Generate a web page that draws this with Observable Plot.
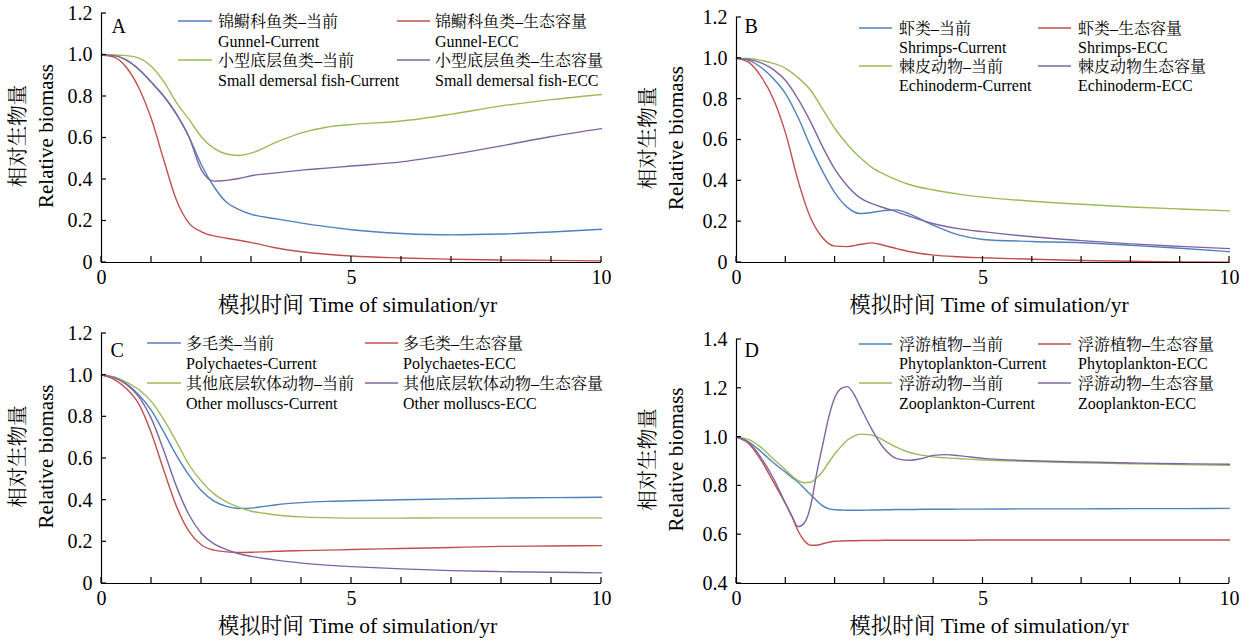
<!DOCTYPE html>
<html>
<head>
<meta charset="utf-8">
<script src="https://cdn.jsdelivr.net/npm/d3@7"></script>
<script src="https://cdn.jsdelivr.net/npm/@observablehq/plot@0.6"></script>
<style>
  html, body { margin: 0; padding: 0; background: #fff; }
  body { width: 1249px; height: 643px; position: relative; overflow: hidden; }
  .panel { position: absolute; }
</style>
</head>
<body>
<div id="pA" class="panel" style="left:0px;top:0px"></div>
<div id="pB" class="panel" style="left:630px;top:0px"></div>
<div id="pC" class="panel" style="left:0px;top:320px"></div>
<div id="pD" class="panel" style="left:630px;top:320px"></div>
<script>
// ---------- data ----------
const seriesColors = ["#4F81BD", "#C0504D", "#9BBB59", "#8064A2"];
const yLabelZh = "相对生物量";
const yLabelEn = "Relative biomass";
const xLabel = "模拟时间 Time of simulation/yr";
const xTickLabels = [0, 5, 10];
const xMinorTicks = [0, 1, 2, 3, 4, 5, 6, 7, 8, 9, 10];
const yTicksABC = [0, 0.2, 0.4, 0.6, 0.8, 1.0, 1.2];
const yTicksD = [0.4, 0.6, 0.8, 1.0, 1.2, 1.4];

// Panel A
const timeA = [0,0.25,0.5,0.75,1,1.25,1.5,1.75,2,2.25,2.5,2.75,3,3.5,4,4.5,5,6,7,8,9,10];
const gunnelCurrent = [1.0,0.997,0.975,0.93,0.868,0.80,0.715,0.605,0.47,0.365,0.29,0.255,0.232,0.21,0.19,0.173,0.158,0.14,0.133,0.137,0.147,0.16];
const gunnelECC = [1.0,0.99,0.94,0.84,0.69,0.49,0.30,0.19,0.148,0.128,0.117,0.107,0.096,0.07,0.052,0.04,0.031,0.022,0.016,0.012,0.01,0.008];
const smallFishCurrent = [1.0,1.0,0.997,0.985,0.945,0.87,0.77,0.69,0.605,0.55,0.523,0.516,0.528,0.58,0.625,0.652,0.665,0.682,0.715,0.755,0.785,0.81];
const smallFishECC = [1.0,0.997,0.975,0.93,0.868,0.80,0.715,0.605,0.445,0.392,0.396,0.405,0.418,0.432,0.445,0.455,0.465,0.485,0.52,0.562,0.607,0.645];
const legendA_zh = ["锦鳚科鱼类–当前", "锦鳚科鱼类–生态容量", "小型底层鱼类–当前", "小型底层鱼类–生态容量"];
const legendA_en = ["Gunnel-Current", "Gunnel-ECC", "Small demersal fish-Current", "Small demersal fish-ECC"];

// Panel B
const timeB = [0,0.25,0.5,0.75,1,1.25,1.5,1.75,2,2.25,2.5,2.75,3,3.25,3.5,4,4.5,5,6,7,8,9,10];
const shrimpsCurrent = [1.0,0.99,0.955,0.9,0.825,0.71,0.57,0.445,0.34,0.27,0.24,0.245,0.255,0.258,0.238,0.182,0.135,0.113,0.103,0.097,0.084,0.07,0.053];
const shrimpsECC = [1.0,0.98,0.91,0.80,0.63,0.40,0.22,0.12,0.08,0.078,0.088,0.096,0.083,0.068,0.054,0.036,0.028,0.023,0.016,0.01,0.006,0.003,0.001];
const echinoCurrent = [1.0,0.999,0.99,0.975,0.95,0.905,0.845,0.75,0.655,0.578,0.515,0.465,0.432,0.405,0.382,0.355,0.335,0.32,0.30,0.285,0.272,0.262,0.253];
const echinoECC = [1.0,0.995,0.978,0.945,0.89,0.80,0.69,0.565,0.455,0.375,0.318,0.288,0.267,0.248,0.227,0.19,0.166,0.151,0.126,0.107,0.091,0.079,0.068];
const legendB_zh = ["虾类–当前", "虾类–生态容量", "棘皮动物–当前", "棘皮动物生态容量"];
const legendB_en = ["Shrimps-Current", "Shrimps-ECC", "Echinoderm-Current", "Echinoderm-ECC"];

// Panel C
const timeC = [0,0.25,0.5,0.75,1,1.25,1.5,1.75,2,2.25,2.5,2.75,3,3.25,3.5,4,4.5,5,6,7,8,9,10];
const polyCurrent = [1.0,0.99,0.958,0.905,0.83,0.725,0.615,0.52,0.445,0.395,0.37,0.36,0.362,0.37,0.378,0.388,0.394,0.397,0.402,0.406,0.41,0.412,0.414];
const polyECC = [1.0,0.98,0.935,0.86,0.72,0.54,0.37,0.25,0.185,0.16,0.152,0.149,0.15,0.152,0.155,0.158,0.16,0.163,0.168,0.173,0.178,0.18,0.182];
const molluscCurrent = [1.0,0.992,0.967,0.93,0.873,0.785,0.68,0.57,0.49,0.43,0.392,0.365,0.347,0.337,0.329,0.32,0.316,0.314,0.314,0.315,0.315,0.315,0.315];
const molluscECC = [1.0,0.988,0.955,0.895,0.79,0.635,0.465,0.33,0.24,0.19,0.163,0.143,0.13,0.12,0.112,0.098,0.088,0.081,0.07,0.062,0.057,0.054,0.051];
const legendC_zh = ["多毛类–当前", "多毛类–生态容量", "其他底层软体动物–当前", "其他底层软体动物–生态容量"];
const legendC_en = ["Polychaetes-Current", "Polychaetes-ECC", "Other molluscs-Current", "Other molluscs-ECC"];

// Panel D
const timeD = [0,0.25,0.5,0.75,1,1.125,1.25,1.375,1.5,1.625,1.75,1.875,2,2.125,2.25,2.375,2.5,2.75,3,3.25,3.5,3.75,4,4.25,4.5,5,6,7,8,9,10];
const phytoCurrent = [1.0,0.98,0.94,0.895,0.855,0.835,0.815,0.79,0.765,0.74,0.718,0.706,0.702,0.701,0.70,0.70,0.70,0.701,0.702,0.703,0.703,0.704,0.704,0.704,0.705,0.705,0.706,0.706,0.707,0.707,0.708];
const phytoECC = [1.0,0.973,0.905,0.815,0.725,0.675,0.615,0.575,0.557,0.557,0.563,0.569,0.573,0.574,0.575,0.575,0.576,0.576,0.577,0.577,0.577,0.577,0.577,0.577,0.577,0.578,0.578,0.578,0.578,0.578,0.578];
const zooCurrent = [1.0,0.99,0.958,0.91,0.865,0.84,0.822,0.813,0.815,0.832,0.86,0.898,0.933,0.962,0.988,1.003,1.012,1.008,0.985,0.958,0.938,0.926,0.919,0.915,0.912,0.906,0.9,0.895,0.891,0.887,0.884];
const zooECC = [1.0,0.978,0.915,0.83,0.725,0.675,0.633,0.648,0.715,0.85,0.97,1.085,1.165,1.2,1.207,1.178,1.128,1.03,0.952,0.912,0.905,0.912,0.925,0.928,0.924,0.913,0.903,0.898,0.894,0.891,0.889];
const legendD_zh = ["浮游植物–当前", "浮游植物–生态容量", "浮游动物–当前", "浮游动物–生态容量"];
const legendD_en = ["Phytoplankton-Current", "Phytoplankton-ECC", "Zooplankton-Current", "Zooplankton-ECC"];

// ---------- drawing ----------
const FONT = '"Liberation Serif","Times New Roman","Noto Serif CJK SC","Noto Sans CJK SC",serif';
const fmt = d => d === 0 ? "0" : d.toFixed(1);

function drawPanel(cfg) {
  const names = cfg.legendEn;
  const rows = [];
  cfg.series.forEach((vals, si) => vals.forEach((v, i) => rows.push({t: cfg.time[i], v, name: names[si]})));
  const y0 = cfg.yDomain[0];
  const plot = Plot.plot({
    width: cfg.width, height: 320,
    marginLeft: cfg.ml, marginRight: cfg.mr, marginTop: cfg.mt, marginBottom: cfg.mb,
    style: {fontFamily: FONT, fontSize: "20px", color: "#000", background: "#fff", overflow: "visible"},
    x: {domain: [0, 10]},
    y: {domain: cfg.yDomain},
    color: {domain: names, range: seriesColors},
    marks: [
      Plot.axisY({ticks: cfg.yTicks, tickSize: 0, tickPadding: 9, tickFormat: fmt, label: null}),
      Plot.axisX({ticks: xTickLabels, tickSize: 0, tickPadding: 7, tickFormat: d => String(d), label: null}),
      Plot.lineY(rows, {x: "t", y: "v", z: "name", stroke: "name", curve: "monotone-x", strokeWidth: 1.4}),
      Plot.ruleX([0], {stroke: "#000", strokeWidth: 1.2}),
      Plot.ruleY([y0], {stroke: "#000", strokeWidth: 1.2}),
      Plot.text([cfg.letter], {frameAnchor: "top-left", textAnchor: "start", lineAnchor: "middle", dx: cfg.letterDx, dy: cfg.letterDy, fontSize: 20}),
      Plot.text([yLabelZh], {frameAnchor: "left", textAnchor: "middle", lineAnchor: "middle", rotate: -90, dx: 18 - cfg.ml, dy: -2, fontSize: 20.5}),
      Plot.text([yLabelEn], {frameAnchor: "left", textAnchor: "middle", lineAnchor: "middle", rotate: -90, dx: 46 - cfg.ml, dy: -2, fontSize: 21}),
      Plot.text([xLabel], {frameAnchor: "bottom", textAnchor: "middle", lineAnchor: "middle", dx: 6, dy: 43, fontSize: 21.5})
    ]
  });
  const sx = plot.scale("x"), sy = plot.scale("y");
  const yb = sy.apply(y0);
  const xl = sx.apply(0);
  const svg = d3.select(plot);
  svg.append("g").selectAll("line").data(xMinorTicks).join("line")
    .attr("x1", d => sx.apply(d)).attr("x2", d => sx.apply(d))
    .attr("y1", yb).attr("y2", yb - 6)
    .attr("stroke", "#000").attr("stroke-width", 1.2);
  svg.append("g").selectAll("line").data(cfg.yTicks).join("line")
    .attr("x1", xl).attr("x2", xl + 5)
    .attr("y1", d => sy.apply(d)).attr("y2", d => sy.apply(d))
    .attr("stroke", "#000").attr("stroke-width", 1.2);
  // legend
  const g = svg.append("g").attr("font-family", FONT).attr("font-size", 16).attr("fill", "#000").attr("text-anchor", "start");
  cfg.legendZh.forEach((zh, i) => {
    const col = i % 2, row = Math.floor(i / 2);
    const lx = cfg.lg.lineX[col], tx = cfg.lg.textX[col];
    const yz = cfg.lg.rows[row * 2], ye = cfg.lg.rows[row * 2 + 1];
    g.append("line").attr("x1", lx[0]).attr("x2", lx[1]).attr("y1", yz).attr("y2", yz)
      .attr("stroke", seriesColors[i]).attr("stroke-width", 1.4);
    g.append("text").attr("x", tx).attr("y", yz).attr("dy", "0.35em").attr("text-anchor", "start").text(zh);
    g.append("text").attr("x", tx).attr("y", ye).attr("dy", "0.35em").attr("text-anchor", "start").text(cfg.legendEn[i]);
  });
  document.getElementById(cfg.el).appendChild(plot);
}

drawPanel({
  el: "pA", letter: "A", width: 620, ml: 101, mr: 19, mt: 13, mb: 58,
  yDomain: [0, 1.2], yTicks: yTicksABC, time: timeA,
  series: [gunnelCurrent, gunnelECC, smallFishCurrent, smallFishECC],
  legendZh: legendA_zh, legendEn: legendA_en,
  letterDx: 10, letterDy: 13,
  lg: {lineX: [[178, 212], [397, 430]], textX: [218, 435], rows: [21, 41, 60, 80]}
});
drawPanel({
  el: "pB", letter: "B", width: 619, ml: 106, mr: 20, mt: 17, mb: 58,
  yDomain: [0, 1.2], yTicks: yTicksABC, time: timeB,
  series: [shrimpsCurrent, shrimpsECC, echinoCurrent, echinoECC],
  legendZh: legendB_zh, legendEn: legendB_en,
  letterDx: 8, letterDy: 9,
  lg: {lineX: [[229, 262], [408, 441]], textX: [269, 448], rows: [28, 47, 66, 85]}
});
drawPanel({
  el: "pC", letter: "C", width: 620, ml: 101, mr: 19, mt: 13, mb: 57,
  yDomain: [0, 1.2], yTicks: yTicksABC, time: timeC,
  series: [polyCurrent, polyECC, molluscCurrent, molluscECC],
  legendZh: legendC_zh, legendEn: legendC_en,
  letterDx: 9, letterDy: 17,
  lg: {lineX: [[147, 181], [365, 398]], textX: [186, 403], rows: [23, 43, 63, 83]}
});
drawPanel({
  el: "pD", letter: "D", width: 619, ml: 106, mr: 20, mt: 19, mb: 57,
  yDomain: [0.4, 1.4], yTicks: yTicksD, time: timeD,
  series: [phytoCurrent, phytoECC, zooCurrent, zooECC],
  legendZh: legendD_zh, legendEn: legendD_en,
  letterDx: 8, letterDy: 11,
  lg: {lineX: [[229, 262], [408, 441]], textX: [269, 448], rows: [24, 43, 63, 83]}
});
</script>
</body>
</html>
